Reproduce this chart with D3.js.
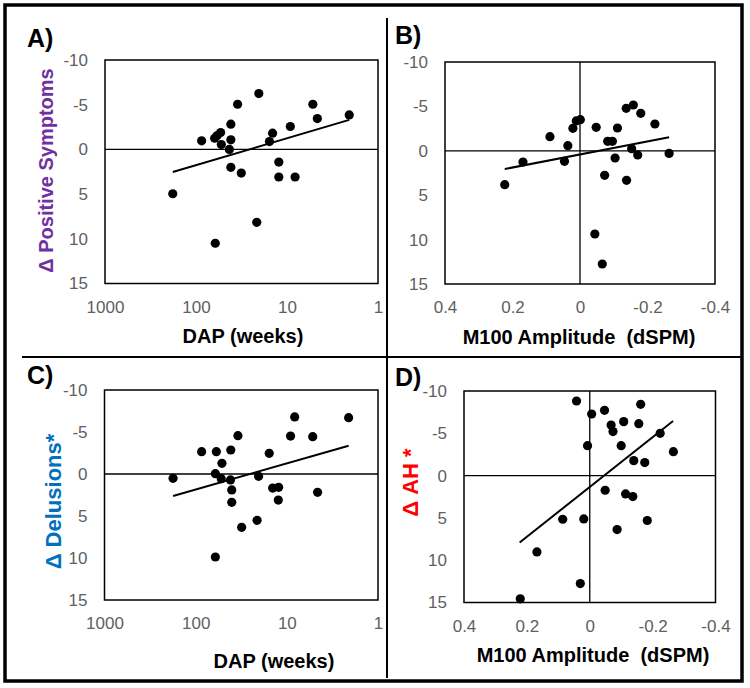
<!DOCTYPE html>
<html>
<head>
<meta charset="utf-8">
<script src="https://cdn.jsdelivr.net/npm/d3@7"></script>
<style>
  html, body { margin: 0; padding: 0; background: #fff; }
  svg { display: block; font-family: "Liberation Sans", Arial, sans-serif; }
</style>
</head>
<body>
<svg id="chart" width="750" height="688"></svg>
<script>
// ---------- data ----------
const yTicks = [-10, -5, 0, 5, 10, 15];
const dapTicks = [1000, 100, 10, 1];
const m100Ticks = [0.4, 0.2, 0, -0.2, -0.4];

// Panel A: DAP (weeks) vs Δ Positive Symptoms
const aDap = [180, 86.7, 62.4, 58.4, 53.6, 52.7, 41.4, 41.4, 43, 41.4, 34.9, 31.8, 61.4, 20.4, 21.5, 15.6, 14.4, 12.3, 12.3, 9.2, 8.15, 5.2, 4.64, 2.07];
const aPos = [4.96, -0.96, -1.26, -1.55, -1.89, -0.55, -2.82, -1.07, 0.0, 2.0, -5.05, 2.65, 10.5, -6.24, 8.16, -0.88, -1.82, 1.42, 3.09, -2.56, 3.09, -5.05, -3.45, -3.86];
const aTrendX = [180, 2.07];
const aTrendY = [2.53, -3.3];

// Panel B: M100 amplitude vs Δ Positive Symptoms
const bM100 = [0.223, 0.169, 0.089, 0.036, 0.046, 0.021, 0.011, -0.001, -0.048, -0.073, -0.082, -0.096, -0.104, -0.111, -0.044, -0.066, -0.137, -0.138, -0.158, -0.153, -0.171, -0.180, -0.222, -0.264];
const bPos = [3.81, 1.26, -1.59, -0.58, 1.19, -2.53, -3.36, -3.51, -2.64, 2.76, -1.07, -1.07, 0.81, -2.57, 9.37, 12.75, -4.78, 3.33, -5.16, -0.24, 0.47, -4.22, -3.02, 0.29];
const bTrendX = [0.223, -0.264];
const bTrendY = [2.05, -1.52];

// Panel C: DAP (weeks) vs Δ Delusions
const cDap = [177, 86, 59.3, 60.8, 51.5, 52.4, 41.2, 41.5, 40.2, 40.2, 34.4, 31.3, 60.8, 21.2, 20.4, 15.6, 14.3, 12.3, 12.4, 9.1, 8.2, 5.2, 4.6, 2.1];
const cDel = [0.52, -2.66, -2.66, -0.04, -1.27, 0.56, -2.86, 0.71, 1.90, 3.37, -4.56, 6.35, 9.88, 5.52, 0.28, -2.46, 1.67, 1.59, 3.10, -4.52, -6.79, -4.44, 2.18, -6.71];
const cTrendX = [177, 2.1];
const cTrendY = [2.62, -3.37];

// Panel D: M100 amplitude vs Δ AH
const dM100 = [0.042, -0.006, -0.047, -0.162, -0.068, -0.074, -0.108, -0.156, -0.224, 0.007, -0.100, -0.266, -0.140, -0.175, -0.049, -0.114, -0.137, 0.086, 0.019, -0.087, -0.183, 0.168, 0.030, 0.221];
const dAH = [-8.82, -7.28, -7.72, -8.43, -5.98, -5.20, -6.38, -6.14, -5.0, -3.54, -3.54, -2.83, -1.77, -1.54, 1.73, 2.17, 2.48, 5.16, 5.12, 6.38, 5.31, 9.02, 12.76, 14.57];
const dTrendX = [0.223, -0.265];
const dTrendY = [7.91, -6.46];

// ---------- drawing ----------
const svg = d3.select("#chart");

const panels = [
  { label: "A)", lx: 27, ly: 47, box: [105, 60, 378, 283.5], log: true, xs: aDap, ys: aPos, tx: aTrendX, ty: aTrendY,
    xTitle: "DAP (weeks)", xtX: 243, xtY: 343, yTitle: "Δ Positive Symptoms", ytX: 53, ytY: 170.5, ytColor: "#7030A0", ytSize: 20, vzero: false },
  { label: "B)", lx: 395, ly: 44, box: [445, 62, 715, 284], log: false, xs: bM100, ys: bPos, tx: bTrendX, ty: bTrendY,
    xTitle: "M100 Amplitude  (dSPM)", xtX: 579, xtY: 344, yTitle: null, vzero: true },
  { label: "C)", lx: 27, ly: 384, box: [104.5, 390, 378, 600], log: true, xs: cDap, ys: cDel, tx: cTrendX, ty: cTrendY,
    xTitle: "DAP (weeks)", xtX: 274, xtY: 668, yTitle: "Δ Delusions*", ytX: 61, ytY: 501.5, ytColor: "#0070C0", ytSize: 22, vzero: false },
  { label: "D)", lx: 395, ly: 386, box: [464, 391, 715.5, 602.5], log: false, xs: dM100, ys: dAH, tx: dTrendX, ty: dTrendY,
    xTitle: "M100 Amplitude  (dSPM)", xtX: 593, xtY: 662, yTitle: "Δ AH *", ytX: 418, ytY: 482.5, ytColor: "#FF0000", ytSize: 22, vzero: true }
];

panels.forEach(p => {
  const [x0, y0, x1, y1] = p.box;
  const x = p.log
    ? d3.scaleLog().domain([1000, 1]).range([x0, x1])
    : d3.scaleLinear().domain([0.4, -0.4]).range([x0, x1]);
  const y = d3.scaleLinear().domain([-10, 15]).range([y0, y1]);
  const g = svg.append("g");

  // plot frame
  g.append("rect")
    .attr("x", x0).attr("y", y0).attr("width", x1 - x0).attr("height", y1 - y0)
    .attr("fill", "none").attr("stroke", "#000").attr("stroke-width", 1.5);

  // zero reference lines
  g.append("line")
    .attr("x1", x0).attr("x2", x1).attr("y1", y(0)).attr("y2", y(0))
    .attr("stroke", "#000").attr("stroke-width", 1.3);
  if (p.vzero) {
    g.append("line")
      .attr("x1", x(0)).attr("x2", x(0)).attr("y1", y0).attr("y2", y1)
      .attr("stroke", "#000").attr("stroke-width", 1.3);
  }

  // axes
  const ya = g.append("g").attr("transform", `translate(${x0},0)`)
    .call(d3.axisLeft(y).tickValues(yTicks).tickSize(0).tickPadding(17).tickFormat(d => String(d)));
  const xa = g.append("g").attr("transform", `translate(0,${y1})`)
    .call(d3.axisBottom(x).tickValues(p.log ? dapTicks : m100Ticks).tickSize(0).tickPadding(17).tickFormat(d => String(d)));
  [ya, xa].forEach(a => {
    a.select(".domain").remove();
    a.selectAll("text").attr("fill", "#606060").style("font-size", "17px")
      .style("font-family", '"Liberation Sans", Arial, sans-serif');
  });

  // trendline
  g.append("line")
    .attr("x1", x(p.tx[0])).attr("y1", y(p.ty[0]))
    .attr("x2", x(p.tx[1])).attr("y2", y(p.ty[1]))
    .attr("stroke", "#000").attr("stroke-width", 2);

  // points
  g.selectAll("circle").data(p.xs.map((v, i) => [v, p.ys[i]])).join("circle")
    .attr("cx", d => x(d[0])).attr("cy", d => y(d[1])).attr("r", 4.6).attr("fill", "#000");

  // panel label
  g.append("text").attr("x", p.lx).attr("y", p.ly).text(p.label)
    .style("font-size", "25px").style("font-weight", "bold").attr("fill", "#000");

  // x title
  g.append("text").attr("x", p.xtX).attr("y", p.xtY).attr("text-anchor", "middle")
    .style("white-space", "pre").attr("xml:space", "preserve")
    .style("font-size", "20px").style("font-weight", "bold").attr("fill", "#000")
    .text(p.xTitle);

  // y title
  if (p.yTitle) {
    g.append("text")
      .attr("transform", `translate(${p.ytX},${p.ytY}) rotate(-90)`)
      .attr("text-anchor", "middle")
      .style("font-size", p.ytSize + "px").style("font-weight", "bold").attr("fill", p.ytColor)
      .text(p.yTitle);
  }
});

// dividers and outer frame
svg.append("line").attr("x1", 387).attr("x2", 387).attr("y1", 18).attr("y2", 678)
  .attr("stroke", "#000").attr("stroke-width", 2);
svg.append("line").attr("x1", 22).attr("x2", 742).attr("y1", 357).attr("y2", 357)
  .attr("stroke", "#000").attr("stroke-width", 2);
svg.append("rect").attr("x", 5).attr("y", 5).attr("width", 737).attr("height", 676)
  .attr("fill", "none").attr("stroke", "#000").attr("stroke-width", 3.5);
</script>
</body>
</html>
